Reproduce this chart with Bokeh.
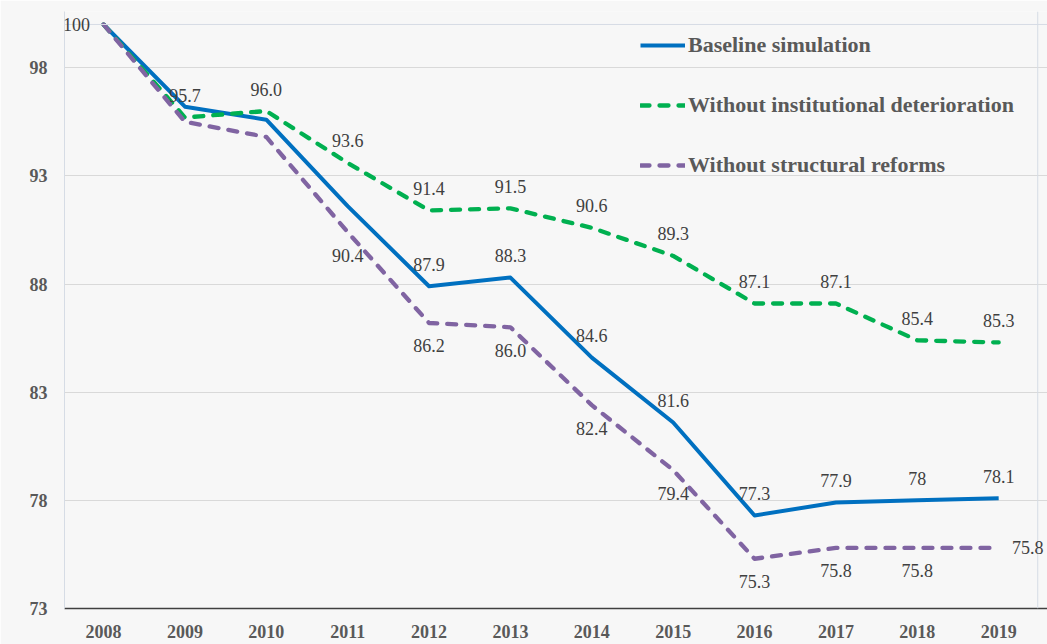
from bokeh.plotting import figure
from bokeh.models import (ColumnDataSource, Legend, LegendItem, FixedTicker,
                          Range1d, LabelSet, Span)
from bokeh.embed import file_html
from bokeh.resources import INLINE

# ---------------- data ----------------
years = list(range(2008, 2020))
baseline = [100, 96.2, 95.6, 91.6, 87.9, 88.3, 84.6, 81.6, 77.3, 77.9, 78.0, 78.1]
without_inst = [100, 95.7, 96.0, 93.6, 91.4, 91.5, 90.6, 89.3, 87.1, 87.1, 85.4, 85.3]
without_struct = [100, 95.5, 94.8, 90.4, 86.2, 86.0, 82.4, 79.4, 75.3, 75.8, 75.8, 75.8]

baseline_labels = ["", "", "", "", "87.9", "88.3", "84.6", "81.6", "77.3", "77.9", "78", "78.1"]
inst_labels = ["100", "95.7", "96.0", "93.6", "91.4", "91.5", "90.6", "89.3", "87.1", "87.1", "85.4", "85.3"]
struct_labels = ["", "", "", "90.4", "86.2", "86.0", "82.4", "79.4", "75.3", "75.8", "75.8", "75.8"]

series_names = ["Baseline simulation", "Without institutional deterioration",
                "Without structural reforms"]
y_ticks = [73, 78, 83, 88, 93, 98]
y_top = 100
x_edges = (2007.52, 2019.48)

# ---------------- styles ----------------
base_pos = ["above"] * 12
inst_pos = ["left"] + ["above"] * 11
struct_pos = ["below"] * 11 + ["right"]
OFFS = {"above": (0, -22), "below": (0, 23), "left": (-27, 0), "right": (29, 0)}

SERIF = "Liberation Serif"
BORDER = "#d6dce5"

p = figure(width=1047, height=644, output_backend="svg", toolbar_location=None,
           x_range=Range1d(x_edges[0], 2019.6), y_range=Range1d(73, 100.6),
           min_border_left=64, min_border_right=0, min_border_top=11,
           min_border_bottom=36)
p.background_fill_color = "#f7f7f7"
p.border_fill_color = "#f7f7f7"
p.outline_line_color = None

p.xgrid.visible = False
p.ygrid.ticker = FixedTicker(ticks=y_ticks)
p.ygrid.grid_line_color = "#d9d9d9"
p.ygrid.grid_line_width = 1

p.add_layout(Span(location=y_top, dimension="width", line_color=BORDER,
                  line_width=1))
p.add_layout(Span(location=x_edges[1], dimension="height", line_color=BORDER,
                  line_width=1))

p.xaxis.ticker = FixedTicker(ticks=years)
p.yaxis.ticker = FixedTicker(ticks=y_ticks)
for ax in (p.xaxis, p.yaxis):
    ax.major_tick_line_color = None
    ax.minor_tick_line_color = None
    ax.major_label_text_font = SERIF
    ax.major_label_text_font_style = "bold"
    ax.major_label_text_font_size = "18px"
    ax.major_label_text_color = "#595959"
p.xaxis.axis_line_color = "#404040"
p.xaxis.axis_line_width = 1.5
p.xaxis.major_label_standoff = 10
p.yaxis.axis_line_color = BORDER
p.yaxis.major_label_standoff = 11

r_base = p.line(years, baseline, line_color="#0070c0", line_width=4,
                line_join="round")
r_inst = p.line(years, without_inst, line_color="#00b050", line_width=4.3,
                line_dash="9 10", line_cap="round", line_join="round")
r_struct = p.line(years, without_struct, line_color="#8064a2", line_width=4.3,
                  line_dash="9 10", line_cap="round", line_join="round")

for vals, labs, pos in ((without_inst, inst_labels, inst_pos),
                        (baseline, baseline_labels, base_pos),
                        (without_struct, struct_labels, struct_pos)):
    src = ColumnDataSource(dict(
        x=years, y=vals, t=labs,
        dx=[OFFS[q][0] for q in pos],
        dy=[-OFFS[q][1] for q in pos]))
    ls = LabelSet(x="x", y="y", text="t", source=src,
                  x_offset="dx", y_offset="dy",
                  text_align="center", text_baseline="middle",
                  text_font=SERIF, text_font_size="18px",
                  text_color="#404040")
    p.add_layout(ls)

legend = Legend(items=[LegendItem(label=series_names[0], renderers=[r_base]),
                       LegendItem(label=series_names[1], renderers=[r_inst]),
                       LegendItem(label=series_names[2], renderers=[r_struct])],
                location=(576, 429))
legend.label_text_font = SERIF
legend.label_text_font_style = "bold"
legend.label_text_font_size = "22px"
legend.label_text_color = "#595959"
legend.glyph_width = 45
legend.glyph_height = 28
legend.label_height = 28
legend.spacing = 32
legend.padding = 0
legend.margin = 0
legend.label_standoff = 3
legend.background_fill_alpha = 0
legend.border_line_alpha = 0
p.add_layout(legend)

open("out.html", "w").write(file_html(p, INLINE))
